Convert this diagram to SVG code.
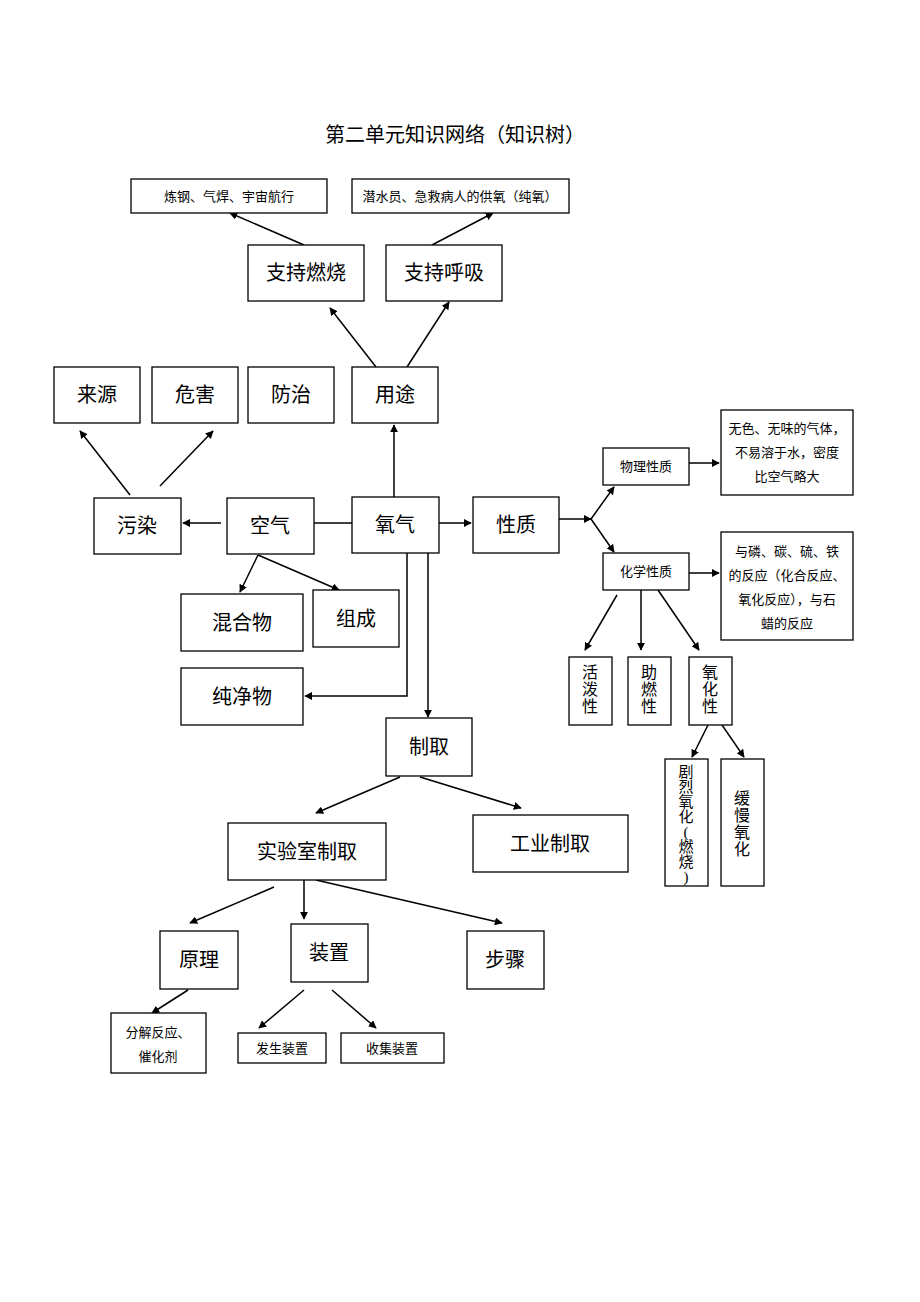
<svg xmlns="http://www.w3.org/2000/svg" width="920" height="1302" viewBox="0 0 920 1302">
<style>
rect{fill:#fff;stroke:#000;stroke-width:1.3}
text{font-family:"Liberation Serif","Noto Sans CJK SC",serif;fill:#000;text-anchor:middle}
.l{font-size:20px}.s{font-size:13px}.m{font-size:16px}.v{font-size:15px}
#c line,#c polyline{stroke:#000;stroke-width:1.5;fill:none}
</style>
<defs><marker id="a" viewBox="0 0 10 10" refX="9" refY="5" markerWidth="8" markerHeight="8" markerUnits="userSpaceOnUse" orient="auto"><path d="M0,0L10,5L0,10z" fill="#000"/></marker></defs>
<rect x="0" y="0" width="920" height="1302" style="stroke:none"/>
<text x="455" y="142" style="font-size:20px">第二单元知识网络（知识树）</text>
<g id="c">
<line x1="304" y1="245" x2="230" y2="213" marker-end="url(#a)"/>
<line x1="432" y1="245" x2="493" y2="213" marker-end="url(#a)"/>
<line x1="376" y1="367" x2="330" y2="308" marker-end="url(#a)"/>
<line x1="407" y1="367" x2="449" y2="302" marker-end="url(#a)"/>
<line x1="394" y1="497" x2="394" y2="425" marker-end="url(#a)"/>
<line x1="130" y1="495" x2="80" y2="431" marker-end="url(#a)"/>
<line x1="160" y1="486" x2="213" y2="431" marker-end="url(#a)"/>
<line x1="221" y1="523" x2="183" y2="523" marker-end="url(#a)"/>
<line x1="314" y1="523" x2="352" y2="523"/>
<line x1="439" y1="523" x2="471" y2="523" marker-end="url(#a)"/>
<line x1="559" y1="519" x2="591" y2="519" marker-end="url(#a)"/>
<line x1="591" y1="519" x2="614" y2="487" marker-end="url(#a)"/>
<line x1="591" y1="519" x2="614" y2="552" marker-end="url(#a)"/>
<line x1="689" y1="463" x2="719" y2="463" marker-end="url(#a)"/>
<line x1="689" y1="573" x2="719" y2="573" marker-end="url(#a)"/>
<line x1="617" y1="595" x2="585" y2="650" marker-end="url(#a)"/>
<line x1="641" y1="590" x2="641" y2="650" marker-end="url(#a)"/>
<line x1="658" y1="590" x2="699" y2="650" marker-end="url(#a)"/>
<line x1="708" y1="725" x2="692" y2="757" marker-end="url(#a)"/>
<line x1="722" y1="725" x2="744" y2="757" marker-end="url(#a)"/>
<line x1="258" y1="555" x2="240" y2="592" marker-end="url(#a)"/>
<line x1="258" y1="555" x2="339" y2="590" marker-end="url(#a)"/>
<polyline points="407,553 407,696 305,696" marker-end="url(#a)"/>
<line x1="428" y1="553" x2="428" y2="717" marker-end="url(#a)"/>
<line x1="400" y1="777" x2="316" y2="813" marker-end="url(#a)"/>
<line x1="420" y1="777" x2="521" y2="808" marker-end="url(#a)"/>
<line x1="274" y1="887" x2="190" y2="923" marker-end="url(#a)"/>
<line x1="304" y1="880" x2="304" y2="919" marker-end="url(#a)"/>
<line x1="316" y1="880" x2="502" y2="923" marker-end="url(#a)"/>
<line x1="188" y1="990" x2="152" y2="1013" marker-end="url(#a)"/>
<line x1="304" y1="990" x2="259" y2="1028" marker-end="url(#a)"/>
<line x1="332" y1="990" x2="376" y2="1028" marker-end="url(#a)"/>
</g>
<g id="n1"><rect x="131" y="179" width="196" height="34"/><text class="s" x="229" y="201">炼钢、气焊、宇宙航行</text></g>
<g id="n2"><rect x="352" y="179" width="217" height="34"/><text class="s" x="460" y="201">潜水员、急救病人的供氧（纯氧）</text></g>
<g id="n3"><rect x="248" y="245" width="116" height="56"/><text class="l" x="306" y="280">支持燃烧</text></g>
<g id="n4"><rect x="386" y="245" width="116" height="56"/><text class="l" x="444" y="280">支持呼吸</text></g>
<g id="n5"><rect x="54" y="367" width="86" height="56"/><text class="l" x="97" y="402">来源</text></g>
<g id="n6"><rect x="152" y="367" width="86" height="56"/><text class="l" x="195" y="402">危害</text></g>
<g id="n7"><rect x="248" y="367" width="86" height="56"/><text class="l" x="291" y="402">防治</text></g>
<g id="n8"><rect x="352" y="367" width="86" height="56"/><text class="l" x="395" y="402">用途</text></g>
<g id="n9"><rect x="94" y="498" width="87" height="56"/><text class="l" x="137" y="533">污染</text></g>
<g id="n10"><rect x="227" y="498" width="87" height="56"/><text class="l" x="270" y="533">空气</text></g>
<g id="n11"><rect x="352" y="497" width="87" height="56"/><text class="l" x="395" y="532">氧气</text></g>
<g id="n12"><rect x="473" y="497" width="86" height="56"/><text class="l" x="516" y="532">性质</text></g>
<g id="n13"><rect x="603" y="448" width="86" height="37"/><text class="s" x="646" y="471">物理性质</text></g>
<g id="n14"><rect x="603" y="553" width="86" height="37"/><text class="s" x="646" y="576">化学性质</text></g>
<g id="n15"><rect x="721" y="410" width="132" height="85"/><text class="s" x="787" y="433">无色、无味的气体，</text><text class="s" x="787" y="457">不易溶于水，密度</text><text class="s" x="787" y="481">比空气略大</text></g>
<g id="n16"><rect x="721" y="532" width="132" height="108"/><text class="s" x="787" y="556">与磷、碳、硫、铁</text><text class="s" x="787" y="580">的反应（化合反应、</text><text class="s" x="787" y="604">氧化反应），与石</text><text class="s" x="787" y="628">蜡的反应</text></g>
<g id="n17"><rect x="569" y="657" width="43" height="68"/><text class="m" x="590" y="678">活</text><text class="m" x="590" y="695">泼</text><text class="m" x="590" y="712">性</text></g>
<g id="n18"><rect x="628" y="657" width="43" height="68"/><text class="m" x="649" y="678">助</text><text class="m" x="649" y="695">燃</text><text class="m" x="649" y="712">性</text></g>
<g id="n19"><rect x="689" y="657" width="43" height="68"/><text class="m" x="710" y="678">氧</text><text class="m" x="710" y="695">化</text><text class="m" x="710" y="712">性</text></g>
<g id="n20"><rect x="665" y="759" width="43" height="127"/><text class="v" x="686" y="777">剧</text><text class="v" x="686" y="792">烈</text><text class="v" x="686" y="807">氧</text><text class="v" x="686" y="822">化</text><text class="v" x="686" y="837">(</text><text class="v" x="686" y="852">燃</text><text class="v" x="686" y="867">烧</text><text class="v" x="686" y="882">)</text></g>
<g id="n21"><rect x="721" y="759" width="43" height="127"/><text class="m" x="742" y="804">缓</text><text class="m" x="742" y="821">慢</text><text class="m" x="742" y="838">氧</text><text class="m" x="742" y="855">化</text></g>
<g id="n22"><rect x="181" y="594" width="122" height="57"/><text class="l" x="242" y="630">混合物</text></g>
<g id="n23"><rect x="313" y="590" width="86" height="57"/><text class="l" x="356" y="626">组成</text></g>
<g id="n24"><rect x="181" y="668" width="122" height="57"/><text class="l" x="242" y="704">纯净物</text></g>
<g id="n25"><rect x="386" y="718" width="86" height="58"/><text class="l" x="429" y="754">制取</text></g>
<g id="n26"><rect x="228" y="823" width="158" height="57"/><text class="l" x="307" y="859">实验室制取</text></g>
<g id="n27"><rect x="473" y="815" width="155" height="57"/><text class="l" x="550" y="851">工业制取</text></g>
<g id="n28"><rect x="160" y="931" width="78" height="58"/><text class="l" x="199" y="967">原理</text></g>
<g id="n29"><rect x="291" y="924" width="77" height="58"/><text class="l" x="329" y="960">装置</text></g>
<g id="n30"><rect x="467" y="931" width="77" height="58"/><text class="l" x="505" y="967">步骤</text></g>
<g id="n31"><rect x="111" y="1013" width="95" height="60"/><text class="s" x="158" y="1037">分解反应、</text><text class="s" x="158" y="1061">催化剂</text></g>
<g id="n32"><rect x="238" y="1033" width="88" height="30"/><text class="s" x="282" y="1053">发生装置</text></g>
<g id="n33"><rect x="341" y="1033" width="103" height="30"/><text class="s" x="392" y="1053">收集装置</text></g>
</svg>
